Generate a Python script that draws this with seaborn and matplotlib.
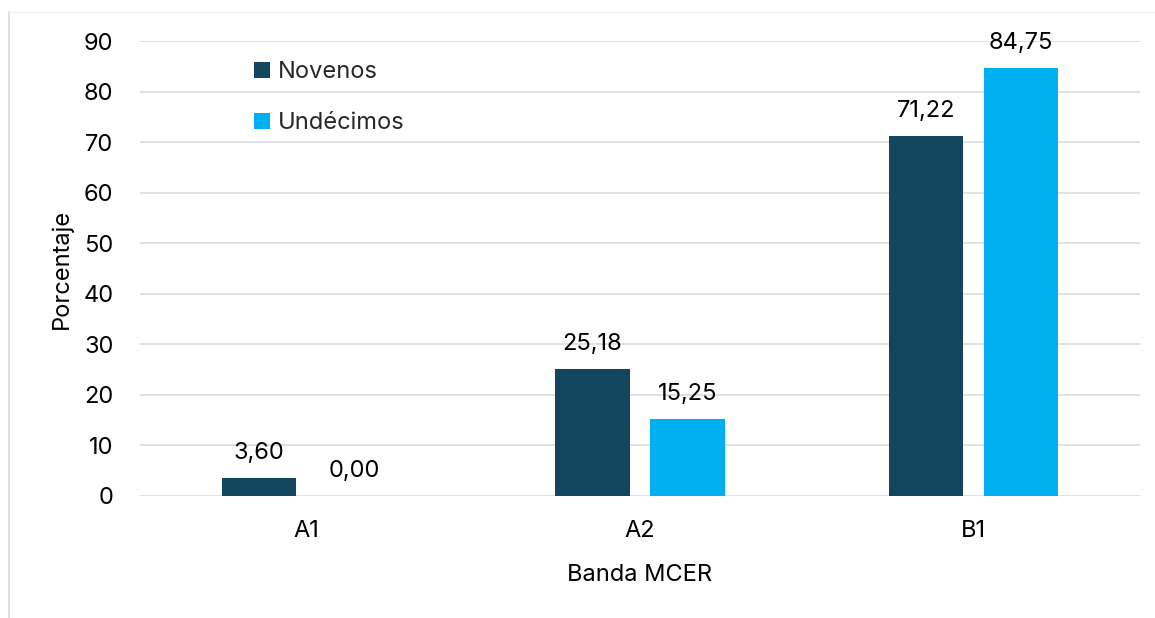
import matplotlib
matplotlib.use("Agg")
import matplotlib.pyplot as plt
from matplotlib.lines import Line2D
import pandas as pd
import seaborn as sns

# data
bands = ["A1", "A2", "B1"]
novenos = [3.60, 25.18, 71.22]
undecimos = [0.00, 15.25, 84.75]
series = ["Novenos", "Undécimos"]
colors = ["#12465F", "#00B0F0"]
yticks = [0, 10, 20, 30, 40, 50, 60, 70, 80, 90]

df = pd.DataFrame({
    "band": bands * 2,
    "value": novenos + undecimos,
    "grupo": [series[0]] * len(bands) + [series[1]] * len(bands),
})

sns.set_theme(style="white")
plt.rcParams["font.family"] = ["Inter", "DejaVu Sans"]
fs = 17

fig = plt.figure(figsize=(11.55, 6.18), dpi=100)
ax = fig.add_axes([140 / 1155, 1 - 496 / 618, 1000 / 1155, 455 / 618])

sns.barplot(data=df, x="band", y="value", hue="grupo", order=bands,
            hue_order=series, palette=colors, width=0.57, gap=0.22,
            saturation=1, linewidth=0, ax=ax, legend=True)

# value labels above each bar
for cont, vals in zip(ax.containers, [novenos, undecimos]):
    for patch, v in zip(cont, vals):
        ax.annotate(f"{v:.2f}".replace(".", ","),
                    (patch.get_x() + patch.get_width() / 2, patch.get_height()),
                    xytext=(0, 13.7), textcoords="offset points",
                    ha="center", va="baseline", fontsize=fs, color="#000000")

ax.set_ylim(0, 90)
ax.set_xlim(-0.5, 2.5)
ax.set_yticks(yticks)
ax.yaxis.grid(True, color="#D9D9D9", linewidth=1.1)
ax.set_axisbelow(True)
for s in ax.spines.values():
    s.set_visible(False)
ax.tick_params(axis="both", length=0, labelsize=fs, colors="#000000")
ax.tick_params(axis="y", pad=19)
ax.tick_params(axis="x", pad=17)

ax.set_xlabel("Banda MCER", fontsize=fs, color="#000000")
ax.set_ylabel("Porcentaje", fontsize=fs, color="#000000")
ax.xaxis.set_label_coords(0.5, -0.15)
ax.yaxis.set_label_coords(-0.067, 0.5)

leg = ax.legend(loc="upper left", bbox_to_anchor=(0.114, 0.955), frameon=False,
                fontsize=fs, handlelength=0.68, handleheight=0.68,
                handletextpad=0.33, labelspacing=1.22, borderpad=0,
                borderaxespad=0)

# thin border of the chart area
fig.add_artist(Line2D([9 / 1155, 9 / 1155], [0, 1 - 12 / 618],
                      transform=fig.transFigure, color="#D9D9D9", linewidth=1.2))
fig.add_artist(Line2D([9 / 1155, 1], [1 - 12 / 618, 1 - 12 / 618],
                      transform=fig.transFigure, color="#F4F4F4", linewidth=1.0))

fig.savefig("out.png", dpi=100)
